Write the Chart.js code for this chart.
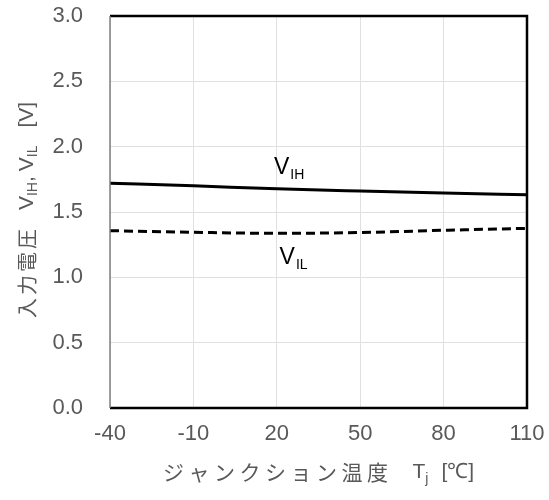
<!DOCTYPE html>
<html>
<head>
<meta charset="utf-8">
<script src="https://cdn.jsdelivr.net/npm/chart.js@4"></script>
<style>
  html, body { margin: 0; padding: 0; background: #fff; }
  #wrap { width: 549px; height: 500px; }
</style>
</head>
<body>
<div id="wrap"><canvas id="chart"></canvas></div>
<script>
// data
const temps = [-40, -10, 20, 50, 80, 110];
const vih = [1.72, 1.70, 1.677, 1.66, 1.645, 1.632];
const vil = [1.357, 1.345, 1.337, 1.343, 1.36, 1.375];
const xTicks = [-40, -10, 20, 50, 80, 110];
const yTicks = [0, 0.5, 1.0, 1.5, 2.0, 2.5, 3.0];

const textColor = '#595959';
const latin = 'Arial, "Liberation Sans", sans-serif';
const cjk = '"Noto Sans CJK JP", sans-serif';

// draw text pieces (with subscripts) in sequence, returns total width
function drawRich(ctx, parts, x, y, measureOnly) {
    let cx = x;
    parts.forEach(p => {
        ctx.font = p.font;
        ctx.letterSpacing = p.ls || '0px';
        const w = ctx.measureText(p.t).width;
        if (!measureOnly) ctx.fillText(p.t, cx, y + (p.dy || 0));
        cx += w + (p.gap || 0);
    });
    ctx.letterSpacing = '0px';
    return cx - x;
}

const annotations = {
    id: 'annotations',
    afterDatasetsDraw(chart) {
        const ctx = chart.ctx;
        const a = chart.chartArea;
        const xs = chart.scales.x, ys = chart.scales.y;
        ctx.save();

        // frame: left thin gray, others thick black
        ctx.strokeStyle = '#000';
        ctx.lineWidth = 2.5;
        ctx.beginPath();
        ctx.moveTo(a.left, a.top);
        ctx.lineTo(a.right, a.top);
        ctx.lineTo(a.right, a.bottom);
        ctx.lineTo(a.left, a.bottom);
        ctx.stroke();
        ctx.strokeStyle = '#7f7f7f';
        ctx.lineWidth = 1.5;
        ctx.beginPath();
        ctx.moveTo(a.left, a.top);
        ctx.lineTo(a.left, a.bottom);
        ctx.stroke();

        // series labels
        ctx.fillStyle = '#000';
        ctx.textBaseline = 'alphabetic';
        ctx.textAlign = 'left';
        drawRich(ctx, [
            { t: 'V', font: '23px ' + latin, gap: 1 },
            { t: 'IH', font: '14px ' + latin, dy: 5 }
        ], xs.getPixelForValue(19), ys.getPixelForValue(1.79));
        drawRich(ctx, [
            { t: 'V', font: '23px ' + latin, gap: 1 },
            { t: 'IL', font: '14px ' + latin, dy: 5 }
        ], xs.getPixelForValue(21), ys.getPixelForValue(1.1));

        // x axis title
        ctx.fillStyle = textColor;
        ctx.textBaseline = 'middle';
        const xParts = [
            { t: 'ジャンクション温度', font: '21px ' + cjk, ls: '4.5px', gap: 20 },
            { t: 'T', font: '21px ' + latin },
            { t: 'j', font: '14px ' + latin, dy: 7, gap: 13 },
            { t: '[℃]', font: '21px ' + latin }
        ];
        const xw = drawRich(ctx, xParts, 0, 0, true);
        drawRich(ctx, xParts, (a.left + a.right) / 2 - xw / 2, 472);

        // y axis title (rotated)
        const yParts = [
            { t: '入力電圧', font: '20px ' + cjk, ls: '3px', gap: 16 },
            { t: 'V', font: '21px ' + latin },
            { t: 'IH', font: '14px ' + latin, dy: 6 },
            { t: ',', font: '21px ' + latin, gap: 5 },
            { t: 'V', font: '21px ' + latin },
            { t: 'IL', font: '14px ' + latin, dy: 6, gap: 18 },
            { t: '[V]', font: '21px ' + latin }
        ];
        const yw = drawRich(ctx, yParts, 0, 0, true);
        ctx.translate(27, 210);
        ctx.rotate(-Math.PI / 2);
        drawRich(ctx, yParts, -yw / 2, 0);
        ctx.restore();
    }
};

const ctx = document.getElementById('chart').getContext('2d');
const chart = new Chart(ctx, {
    type: 'line',
    data: {
        labels: temps,
        datasets: [{
            label: 'VIH',
            data: temps.map((t, i) => ({ x: t, y: vih[i] })),
            borderColor: '#000',
            borderWidth: 3,
            pointRadius: 0,
            cubicInterpolationMode: 'monotone'
        }, {
            label: 'VIL',
            data: temps.map((t, i) => ({ x: t, y: vil[i] })),
            borderColor: '#000',
            borderWidth: 3,
            borderDash: [9, 5],
            pointRadius: 0,
            cubicInterpolationMode: 'monotone'
        }]
    },
    options: {
        responsive: true,
        maintainAspectRatio: false,
        animation: false,
        layout: { padding: { left: 0, top: 16, right: 22, bottom: 0 } },
        plugins: {
            legend: { display: false },
            tooltip: { enabled: false }
        },
        scales: {
            x: {
                type: 'linear',
                min: -40,
                max: 110,
                afterBuildTicks: s => { s.ticks = xTicks.map(v => ({ value: v })); },
                afterFit: s => {
                    s.height = 92;
                    s.paddingLeft = 0; s.paddingRight = 0;
                },
                grid: { color: '#e0e0e0', lineWidth: 1, drawTicks: false },
                border: { display: false },
                ticks: {
                    color: textColor,
                    padding: 13,
                    font: { family: latin, size: 22 },
                    maxRotation: 0
                }
            },
            y: {
                min: 0,
                max: 3,
                afterBuildTicks: s => { s.ticks = yTicks.map(v => ({ value: v })); },
                afterFit: s => {
                    s.width = 110;
                    s.paddingTop = 0; s.paddingBottom = 0;
                },
                grid: { color: '#e0e0e0', lineWidth: 1, drawTicks: false },
                border: { display: false },
                ticks: {
                    color: textColor,
                    padding: 27,
                    font: { family: latin, size: 22 },
                    callback: v => v.toFixed(1)
                }
            }
        }
    },
    plugins: [annotations]
});
</script>
</body>
</html>
